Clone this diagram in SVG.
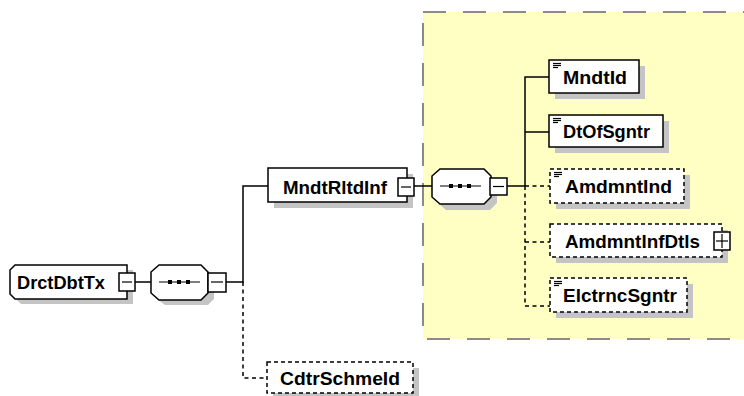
<svg xmlns="http://www.w3.org/2000/svg" width="744" height="396" viewBox="0 0 744 396">
<style>
.bg{fill:#ffffff}
.yel{fill:#ffffc4;stroke:#8a8a8a;stroke-width:2;stroke-dasharray:23,17}
.box{fill:#ffffff;stroke:#000000;stroke-width:1.5}
.opt{fill:#ffffff;stroke:#000000;stroke-width:1.5;stroke-dasharray:4,3}
.sh{fill:#c4c4c4}
.ln{fill:none;stroke:#000000;stroke-width:1.5}
.dl{fill:none;stroke:#000000;stroke-width:1.5;stroke-dasharray:4,3.5}
.tx{font-family:"Liberation Sans",Arial,sans-serif;font-weight:bold;font-size:17.5px;fill:#000000}
.ic{stroke:#000000;stroke-width:1.2}
.dot{fill:#000000}
</style>
<rect class="bg" x="0" y="0" width="744" height="396"/>
<rect class="yel" x="423" y="12" width="330" height="327"/>

<g id="connectors">
  <line class="ln" x1="135" y1="282" x2="151" y2="282"/>
  <polyline class="ln" points="226,282 243,282 243,186 268,186"/>
  <polyline class="dl" points="243,282 243,378 267,378"/>
  <line class="ln" x1="414" y1="186" x2="432" y2="186"/>
  <line class="ln" x1="507" y1="186" x2="525" y2="186"/>
  <polyline class="ln" points="549,77 525,77 525,186"/>
  <line class="ln" x1="525" y1="132" x2="549" y2="132"/>
  <polyline class="dl" points="525,186 525,306 550,306"/>
  <line class="dl" x1="525" y1="186" x2="550" y2="186"/>
  <line class="dl" x1="525" y1="242" x2="550" y2="242"/>
</g>

<g id="DrctDbtTx">
  <polygon class="sh" points="21,270 133,270 133,304 21,304 16,299 16,275"/>
  <polygon class="box" points="15,265 127,265 127,299 15,299 10,294 10,270"/>
  <text class="tx" x="17" y="288.5" textLength="88" lengthAdjust="spacingAndGlyphs">DrctDbtTx</text>
  <rect class="box" x="119" y="273" width="16" height="18"/>
  <line class="ic" x1="122" y1="282" x2="132" y2="282"/>
</g>

<g id="seq1">
  <polygon class="sh" points="165,271 208,271 214,277 214,299 208,305 165,305 157,299 157,277"/>
  <polygon class="box" points="159,265 201,265 208,272 208,293 201,300 159,300 151,293 151,272"/>
  <line class="ic" x1="159" y1="282" x2="200" y2="282"/>
  <rect class="dot" x="168" y="280" width="4" height="4"/>
  <rect class="dot" x="177" y="280" width="4" height="4"/>
  <rect class="dot" x="186" y="280" width="4" height="4"/>
  <rect class="box" x="208" y="273" width="18" height="19"/>
  <line class="ic" x1="211" y1="282" x2="223" y2="282"/>
</g>

<g id="MndtRltdInf">
  <rect class="sh" x="274" y="174" width="139" height="34"/>
  <rect class="box" x="268" y="168" width="139" height="34"/>
  <text class="tx" x="283" y="193.5" textLength="104" lengthAdjust="spacingAndGlyphs">MndtRltdInf</text>
  <rect class="box" x="398" y="178" width="16" height="18"/>
  <line class="ic" x1="401" y1="187" x2="411" y2="187"/>
</g>

<g id="seq2">
  <polygon class="sh" points="446,175 490,175 497,182 497,203 490,210 446,210 438,203 438,182"/>
  <polygon class="box" points="440,169 484,169 491,176 491,197 484,204 440,204 432,197 432,176"/>
  <line class="ic" x1="440" y1="186" x2="481" y2="186"/>
  <rect class="dot" x="449" y="184" width="4" height="4"/>
  <rect class="dot" x="458" y="184" width="4" height="4"/>
  <rect class="dot" x="467" y="184" width="4" height="4"/>
  <rect class="box" x="490" y="178" width="17" height="17"/>
  <line class="ic" x1="493" y1="186.5" x2="504" y2="186.5"/>
</g>

<g id="MndtId">
  <rect class="sh" x="555" y="66" width="90" height="33"/>
  <rect class="box" x="549" y="60" width="90" height="33"/>
  <line class="ic" x1="553" y1="63.5" x2="561" y2="63.5"/>
  <line class="ic" x1="553" y1="65.5" x2="561" y2="65.5"/>
  <line class="ic" x1="553" y1="67.5" x2="558" y2="67.5"/>
  <text class="tx" x="563" y="83.5" textLength="64" lengthAdjust="spacingAndGlyphs">MndtId</text>
</g>

<g id="DtOfSgntr">
  <rect class="sh" x="555" y="121" width="114" height="32"/>
  <rect class="box" x="549" y="115" width="114" height="32"/>
  <line class="ic" x1="553" y1="118.5" x2="561" y2="118.5"/>
  <line class="ic" x1="553" y1="120.5" x2="561" y2="120.5"/>
  <line class="ic" x1="553" y1="122.5" x2="558" y2="122.5"/>
  <text class="tx" x="563" y="137.5" textLength="87" lengthAdjust="spacingAndGlyphs">DtOfSgntr</text>
</g>

<g id="AmdmntInd">
  <rect class="sh" x="556" y="175" width="134" height="34"/>
  <rect class="opt" x="550" y="169" width="134" height="34"/>
  <line class="ic" x1="554" y1="172.5" x2="562" y2="172.5"/>
  <line class="ic" x1="554" y1="174.5" x2="562" y2="174.5"/>
  <line class="ic" x1="554" y1="176.5" x2="559" y2="176.5"/>
  <text class="tx" x="565" y="192.5" textLength="107" lengthAdjust="spacingAndGlyphs">AmdmntInd</text>
</g>

<g id="AmdmntInfDtls">
  <rect class="sh" x="556" y="230" width="172" height="33"/>
  <rect class="opt" x="550" y="224" width="172" height="33"/>
  <text class="tx" x="565" y="247.5" textLength="135" lengthAdjust="spacingAndGlyphs">AmdmntInfDtls</text>
  <rect class="box" x="714" y="232" width="16" height="18"/>
  <line class="ic" x1="716" y1="241" x2="728" y2="241"/>
  <line class="ic" x1="722" y1="234" x2="722" y2="248"/>
</g>

<g id="ElctrncSgntr">
  <rect class="sh" x="556" y="284" width="137" height="34"/>
  <rect class="opt" x="550" y="278" width="137" height="34"/>
  <line class="ic" x1="554" y1="281.5" x2="562" y2="281.5"/>
  <line class="ic" x1="554" y1="283.5" x2="562" y2="283.5"/>
  <line class="ic" x1="554" y1="285.5" x2="559" y2="285.5"/>
  <text class="tx" x="563" y="301.5" textLength="114" lengthAdjust="spacingAndGlyphs">ElctrncSgntr</text>
</g>

<g id="CdtrSchmeId">
  <rect class="sh" x="273" y="368" width="146" height="31"/>
  <rect class="opt" x="267" y="362" width="146" height="31"/>
  <text class="tx" x="280" y="384.5" textLength="120" lengthAdjust="spacingAndGlyphs">CdtrSchmeId</text>
</g>
</svg>
